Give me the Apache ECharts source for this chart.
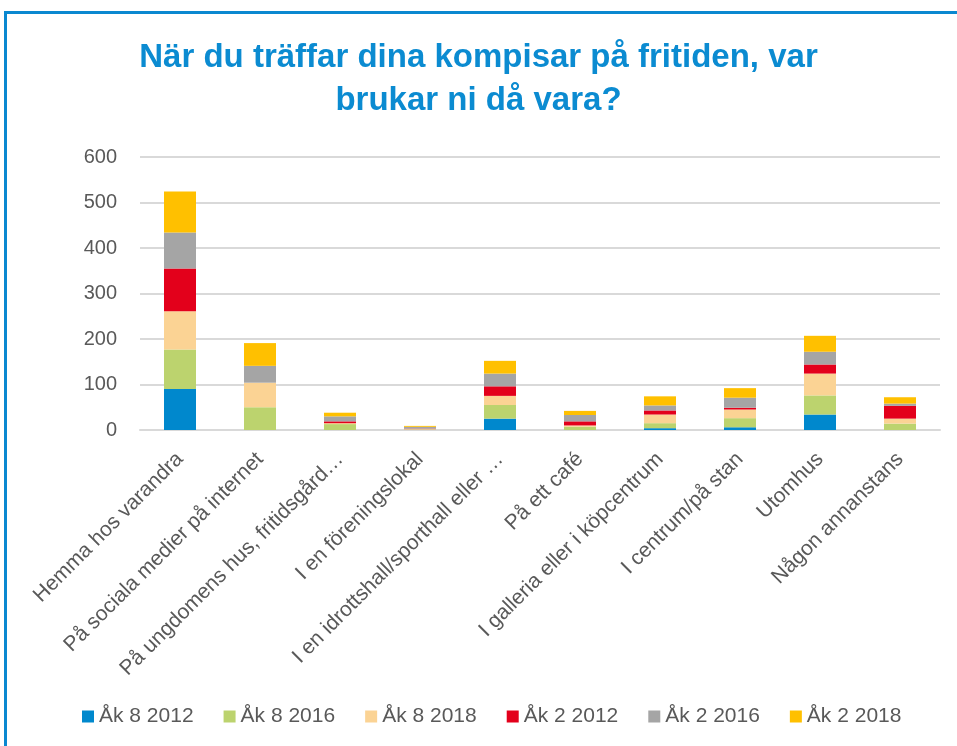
<!DOCTYPE html>
<html lang="sv">
<head>
<meta charset="UTF-8">
<script src="https://cdn.jsdelivr.net/npm/echarts@6/dist/echarts.min.js"></script>
<title>Kompisar på fritiden</title>
<style>
    body { margin: 0; background: #fff; }
    #frame { position: absolute; left: 4px; top: 11px; width: 980px; height: 760px;
             border-left: 3px solid #0a88d0; border-top: 3px solid #0a88d0; }
    #main { position: absolute; left: 0; top: 0; width: 957px; height: 746px; }
</style>
</head>
<body>
<div id="frame"></div>
<div id="main"></div>
<script type="text/javascript">
    // kategorier (x-axel)
    var places = ['Hemma hos varandra', 'På sociala medier på internet', 'På ungdomens hus, fritidsgård…',
        'I en föreningslokal', 'I en idrottshall/sporthall eller …', 'På ett café',
        'I galleria eller i köpcentrum', 'I centrum/på stan', 'Utomhus', 'Någon annanstans'];

    // värden per serie
    var ak8_2012 = [90, 0, 0, 0, 25, 0, 4, 6, 34, 0];
    var ak8_2016 = [87, 50, 13, 1, 30, 7, 11, 20, 42, 14];
    var ak8_2018 = [84, 54, 2, 1, 20, 3, 19, 19, 48, 11];
    var ak2_2012 = [94, 0, 4, 1, 21, 9, 9, 4, 20, 28];
    var ak2_2016 = [79, 37, 11, 4, 28, 14, 11, 22, 28, 5];
    var ak2_2018 = [90, 50, 8, 2, 28, 9, 20, 21, 35, 14];

    var seriesNames = ['Åk 8 2012', 'Åk 8 2016', 'Åk 8 2018', 'Åk 2 2012', 'Åk 2 2016', 'Åk 2 2018'];
    var seriesData = [ak8_2012, ak8_2016, ak8_2018, ak2_2012, ak2_2016, ak2_2018];
    var colors = ['#0088cd', '#bcd36e', '#fbd394', '#e3001b', '#a5a5a5', '#ffc000'];

    var yTicks = [0, 100, 200, 300, 400, 500, 600];

    var font = "'Liberation Sans', Arial, sans-serif";
    var myChart = echarts.init(document.getElementById('main'));

    var series = [];
    for (var i = 0; i < seriesNames.length; i++) {
        series.push({
            name: seriesNames[i],
            type: 'bar',
            stack: 'total',
            barWidth: 32,
            itemStyle: { color: colors[i] },
            data: seriesData[i]
        });
    }

    var option = {
        animation: false,
        title: {
            text: 'När du träffar dina kompisar på fritiden, var\nbrukar ni då vara?',
            left: 'center',
            top: 36,
            padding: [0, 0, 0, 21],
            textStyle: {
                fontFamily: font,
                fontWeight: 'bold',
                fontSize: 33,
                lineHeight: 43,
                color: '#0b8bd1'
            }
        },
        legend: {
            data: seriesNames,
            bottom: 14,
            left: 77,
            itemWidth: 12,
            itemHeight: 12,
            itemGap: 30,
            icon: 'rect',
            textStyle: { fontFamily: font, fontSize: 21, color: '#595959' }
        },
        grid: {
            left: 140,
            right: 17,
            top: 157,
            bottom: 316
        },
        xAxis: {
            type: 'category',
            data: places,
            axisTick: { show: false },
            axisLine: { lineStyle: { color: '#d9d9d9', width: 2 } },
            axisLabel: {
                interval: 0,
                rotate: 45,
                margin: 26,
                fontFamily: font,
                fontSize: 21,
                color: '#595959'
            }
        },
        yAxis: {
            type: 'value',
            min: yTicks[0],
            max: yTicks[yTicks.length - 1],
            interval: 100,
            axisLine: { show: false },
            axisTick: { show: false },
            splitLine: { lineStyle: { color: '#d9d9d9', width: 2 } },
            axisLabel: { margin: 23, fontFamily: font, fontSize: 20, color: '#595959' }
        },
        series: series
    };
    myChart.setOption(option);
</script>
</body>
</html>
